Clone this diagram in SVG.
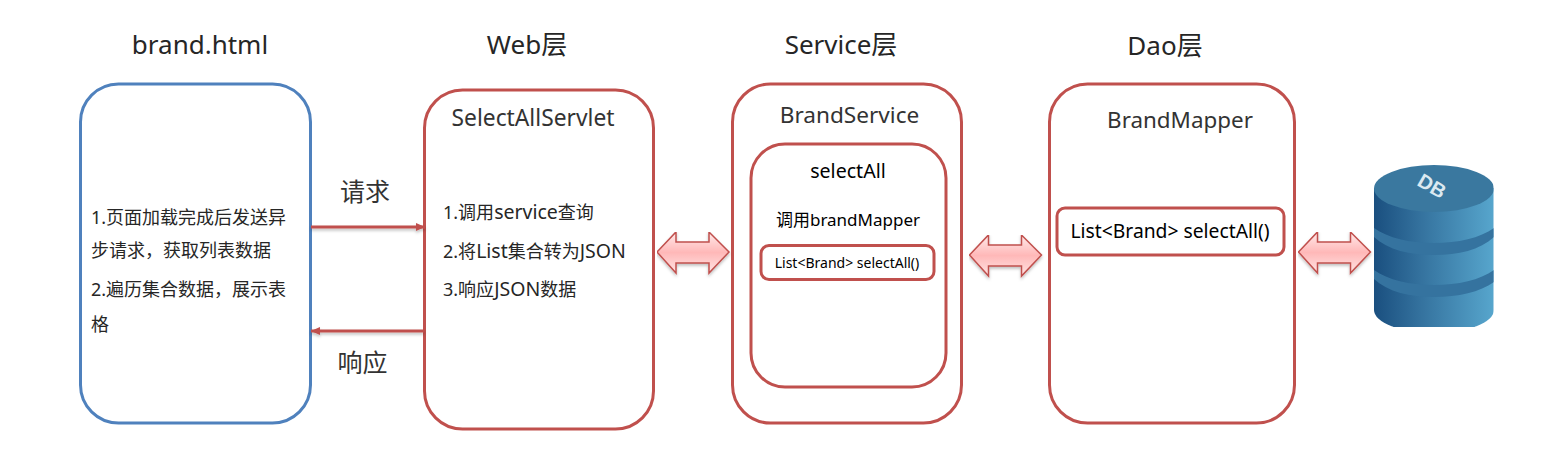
<svg xmlns="http://www.w3.org/2000/svg" width="1553" height="451" viewBox="0 0 1553 451">
<defs>
<linearGradient id="dbg" x1="0" x2="1" y1="0" y2="0"><stop offset="0" stop-color="#1a4f7f"/><stop offset="0.4" stop-color="#35739f"/><stop offset="1" stop-color="#57a6cd"/></linearGradient>
<linearGradient id="arr" x1="0" x2="0" y1="0" y2="1"><stop offset="0" stop-color="#ffeaea"/><stop offset="0.5" stop-color="#ffb8b8"/><stop offset="1" stop-color="#ffe4e4"/></linearGradient>
<filter id="sh" filterUnits="userSpaceOnUse" x="0" y="0" width="1553" height="451"><feDropShadow dx="0" dy="2" stdDeviation="1.500" flood-color="#000" flood-opacity="0.25"/></filter>
<marker id="ah" markerUnits="userSpaceOnUse" markerWidth="10" markerHeight="10" refX="9" refY="4" orient="auto"><path d="M0 0L9 4L0 8Z" fill="#c0504d"/></marker>
<path id="dbl" d="M0 20L19 0V10H52V0L72 20L52 41V31H19V41Z"/>
<clipPath id="dbc"><rect x="1374" y="160" width="119.500" height="167"/></clipPath>
</defs>
<style>
text{font-family:"Noto Sans","Noto Sans CJK SC",sans-serif;fill:#262626}
.box{fill:#fff;stroke:#c0504d;stroke-width:3}
.h{font-size:26px;text-anchor:middle}
.t{font-size:18px}
.t tspan{font-size:19.5px}
.c{font-size:20px;fill:#333;text-anchor:middle}
.k{fill:#000}
.link{stroke:#c0504d;stroke-width:3;fill:none;marker-end:url(#ah);filter:url(#sh)}
.dbl{fill:url(#arr);stroke:#c0504d;stroke-width:1.5;filter:url(#sh)}
</style>
<g id="titles">
<text class="h" x="200" y="54">brand.html</text>
<text class="h" x="527" y="54">Web层</text>
<text class="h" x="841" y="54">Service层</text>
<text class="h" x="1165" y="55">Dao层</text>
</g>
<g id="brand-html">
<rect x="80.500" y="84" width="230" height="339" rx="38" fill="#fff" stroke="#4f81bd" stroke-width="3"/>
<text class="t" x="91" y="224">1.页面加载完成后发送异</text>
<text class="t" x="91" y="257">步请求，获取列表数据</text>
<text class="t" x="91" y="296">2.遍历集合数据，展示表</text>
<text class="t" x="91" y="331">格</text>
</g>
<g id="web">
<rect class="box" x="424.500" y="90" width="229" height="339" rx="38"/>
<text class="c" x="533" y="126" style="font-size:22.800px">SelectAllServlet</text>
<text class="t" x="443" y="219">1.调用<tspan>service</tspan>查询</text>
<text class="t" x="443" y="258">2.将<tspan>List</tspan>集合转为<tspan>JSON</tspan></text>
<text class="t" x="443" y="296">3.响应<tspan>JSON</tspan>数据</text>
</g>
<g id="service">
<rect class="box" x="732.500" y="84" width="229" height="339" rx="38"/>
<text class="c" x="849.500" y="123" style="font-size:22.600px">BrandService</text>
</g>
<g id="selectAll">
<rect class="box" x="751" y="144" width="195" height="243" rx="34"/>
<text class="c k" x="848" y="178" style="font-size:19.600px">selectAll</text>
<text class="k" x="848" y="226" text-anchor="middle" style="font-size:17px">调用brandMapper</text>
</g>
<g id="list-service">
<rect class="box" x="761" y="245.500" width="173" height="34" rx="8"/>
<text class="k" x="847" y="268" text-anchor="middle" style="font-size:14px">List&lt;Brand&gt; selectAll()</text>
</g>
<g id="dao">
<rect class="box" x="1049.500" y="84" width="245" height="339" rx="38"/>
<text class="c" x="1180" y="128" style="font-size:22.400px">BrandMapper</text>
</g>
<g id="list-dao">
<rect class="box" x="1057" y="208" width="227" height="47" rx="8"/>
<text class="k" x="1170" y="238" text-anchor="middle" style="font-size:19.300px">List&lt;Brand&gt; selectAll()</text>
</g>
<g id="connectors">
<path class="link" d="M311 227H425"/>
<path class="link" d="M424 331H311"/>
<text class="c" x="365" y="201" style="font-size:25px">请求</text>
<text class="c" x="362.500" y="372" style="font-size:25px">响应</text>
<use class="dbl" href="#dbl" x="657" y="232"/>
<use class="dbl" href="#dbl" x="969.500" y="235"/>
<use class="dbl" href="#dbl" x="1298.500" y="232"/>
</g>
<g id="db" clip-path="url(#dbc)">
<path d="M1374 188V310A60 23 0 0 0 1494 310V188Z" fill="url(#dbg)"/>
<path d="M1374 228C1388 238 1410 243 1434 243S1480 238 1494 228V237C1480 250 1458 255 1434 255S1388 250 1374 237Z" fill="#35739f"/>
<path d="M1374 270C1388 280 1410 285 1434 285S1480 280 1494 270V282C1480 292 1458 297 1434 297S1388 292 1374 279Z" fill="#35739f"/>
<ellipse cx="1434" cy="188.500" rx="60" ry="23.500" fill="#3a789f"/>
<text x="1432" y="193" transform="rotate(30 1432 186)" text-anchor="middle" style="font-size:20px;font-weight:700;fill:#dbe9f1;font-family:'Liberation Sans',sans-serif">DB</text>
</g>
</svg>
